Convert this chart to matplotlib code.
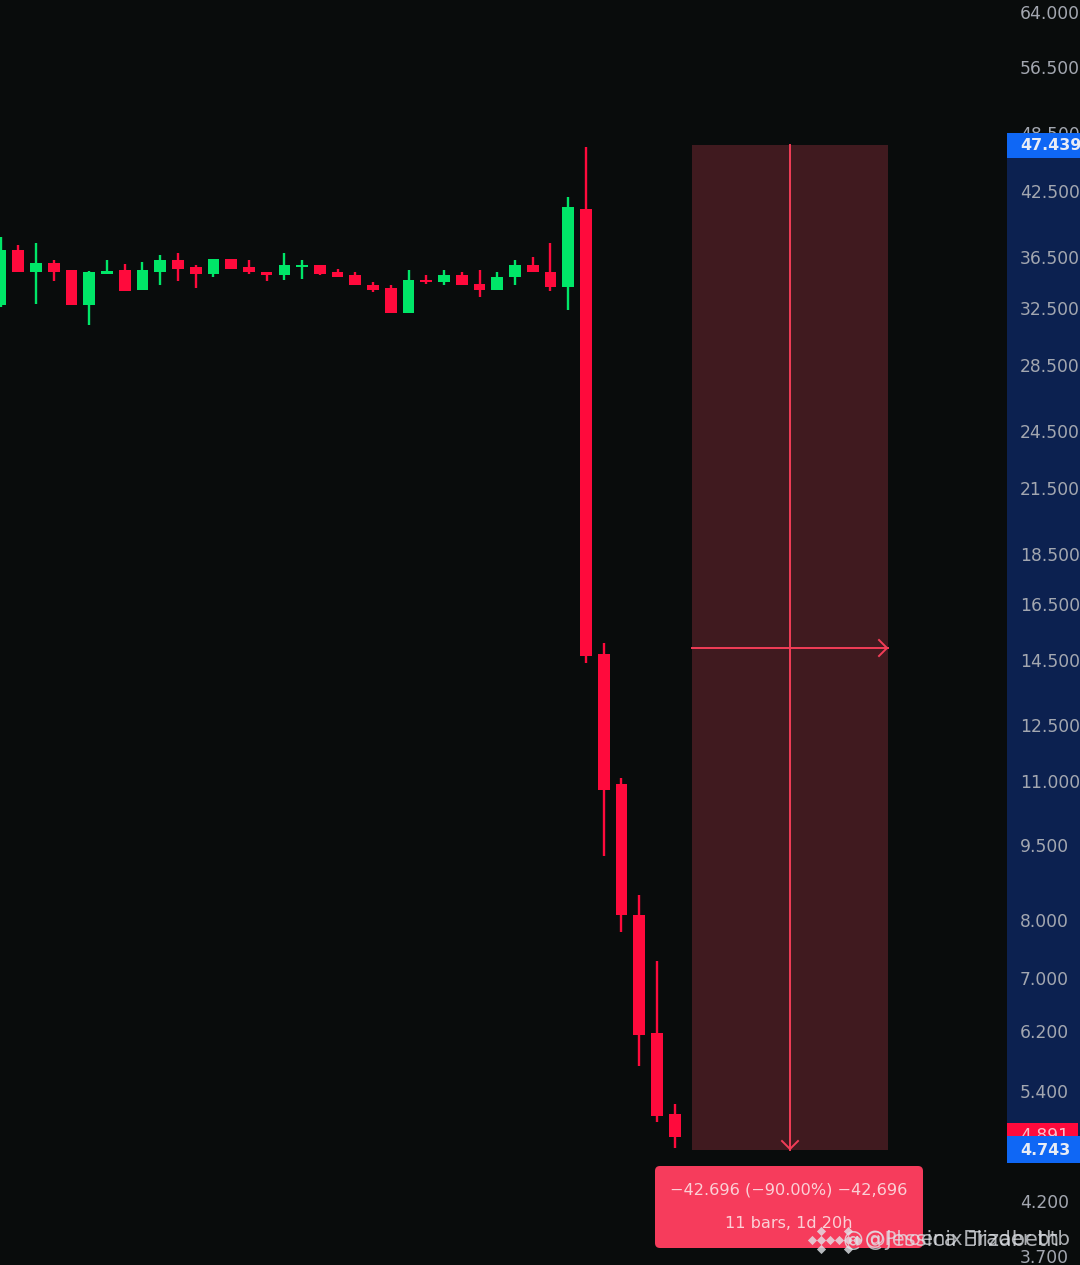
#!/usr/bin/env python3
"""Candlestick chart with measure tool, log price scale."""

import numpy as np
import matplotlib
matplotlib.use("Agg")
import matplotlib.pyplot as plt
from matplotlib.patches import Rectangle, FancyBboxPatch
from matplotlib.transforms import blended_transform_factory

W, H = 1080, 1265

opens = [32.88, 37.30, 35.47, 36.20, 35.63, 32.88, 35.31, 35.63, 34.03, 35.47,
         36.45, 35.87, 35.31, 36.53, 35.87, 35.47, 35.23, 35.87, 36.04, 35.47,
         35.23, 34.42, 34.19, 32.29, 34.82, 34.66, 35.23, 34.50, 34.03, 35.06,
         36.04, 35.47, 34.26, 40.97, 14.78, 10.97, 8.13, 6.20, 5.15]
closes = [37.30, 35.47, 36.20, 35.47, 32.88, 35.47, 35.55, 33.95, 35.63, 36.45,
          35.71, 35.31, 36.53, 35.71, 35.47, 35.23, 36.04, 36.00, 35.31, 35.06,
          34.42, 34.03, 32.29, 34.82, 34.66, 35.23, 34.42, 34.03, 35.06, 36.04,
          35.47, 34.26, 41.16, 14.71, 10.82, 8.13, 6.17, 5.13, 4.891]
highs = [38.42, 37.73, 37.90, 36.45, 35.63, 35.55, 36.45, 36.12, 36.28, 36.88,
         37.05, 36.04, 36.53, 35.71, 36.45, 35.47, 37.05, 36.45, 36.04, 35.71,
         35.47, 34.66, 34.42, 35.63, 35.23, 35.63, 35.47, 35.63, 35.47, 36.45,
         36.71, 37.90, 42.11, 47.22, 15.16, 11.12, 8.51, 7.31, 5.27]
lows = [32.73, 35.47, 32.96, 34.74, 32.88, 31.41, 35.31, 33.95, 34.03, 34.42,
        34.74, 34.19, 35.06, 35.71, 35.31, 34.74, 34.82, 34.90, 35.23, 35.06,
        34.42, 33.87, 32.29, 32.29, 34.50, 34.42, 34.42, 33.49, 34.03, 34.42,
        35.47, 33.95, 32.51, 14.48, 9.31, 7.82, 5.75, 5.06, 4.765]

tick_prices = [64.0, 56.5, 48.5, 42.5, 36.5, 32.5, 28.5, 24.5, 21.5, 18.5, 16.5,
               14.5, 12.5, 11.0, 9.5, 8.0, 7.0, 6.2, 5.4, 4.2, 3.7]
tick_labels = ["64.000", "56.500", "48.500", "42.500", "36.500", "32.500", "28.500",
               "24.500", "21.500", "18.500", "16.500", "14.500", "12.500", "11.000",
               "9.500", "8.000", "7.000", "6.200", "5.400", "4.200", "3.700"]

range_top = 47.439
range_bottom = 4.743
last_close = 4.891
bar_start = 39
bar_end = 50

BG = "#090c0c"
GREEN = "#00e668"
RED = "#ff0a3c"
LINE = "#f23d57"
FONT = "DejaVu Sans"

fig = plt.figure(figsize=(W / 100, H / 100), dpi=100, facecolor=BG)
ax = fig.add_axes([0, 0, 1, 1], facecolor=BG)
ax.set_yscale("log")
ax.set_xlim(-0.03, W / 17.74 - 0.03)
# 1005 px per decade, 47.439 sits at y=145
ax.set_ylim(range_top * 10 ** (-(H - 145) / 1005), range_top * 10 ** (145 / 1005))
ax.axis("off")

# candles
idx = np.arange(len(opens))
o = np.array(opens)
c = np.array(closes)
colors = [GREEN if b > a else RED for a, b in zip(o, c)]
ax.vlines(idx, lows, highs, colors=colors, lw=1.7, zorder=3)
ax.bar(idx, np.abs(c - o), bottom=np.minimum(o, c), width=0.66, color=colors, lw=0, zorder=4)

# measure tool
ax.fill_between([bar_start, bar_end], range_bottom, range_top, color="#401a1f", lw=0, zorder=2)
mid_x = (bar_start + bar_end) / 2
mid_y = np.sqrt(range_top * range_bottom)
ax.plot([mid_x, mid_x], [range_bottom, range_top], color=LINE, lw=1.4, zorder=5)
ax.plot([bar_start, bar_end], [mid_y, mid_y], color=LINE, lw=1.4, zorder=5)

# price scale
trans = blended_transform_factory(ax.transAxes, ax.transData)
ax.add_patch(Rectangle((1007 / W, range_bottom), 73 / W, range_top - range_bottom,
                       transform=trans, color="#0c2150", lw=0, zorder=1))
for p, lab in zip(tick_prices, tick_labels):
    ax.text(1020 / W, p, lab, transform=trans, color="#a3a7b0", fontsize=12.3,
            family=FONT, va="center", ha="left", zorder=6)

# overlay in pixel coordinates for the labels and tooltip
top = fig.add_axes([0, 0, 1, 1], facecolor="none")
top.set_xlim(0, W)
top.set_ylim(H, 0)
top.axis("off")

top.plot([879, 887, 879], [640, 648, 656], color=LINE, lw=1.4)
top.plot([782, 790, 798], [1141, 1149, 1141], color=LINE, lw=1.4)

top.add_patch(Rectangle((1007, 133), 73, 25, color="#0f67f5", lw=0))
top.text(1020, 145.5, "47.439", color="#e8ecf5", fontsize=11.4, fontweight="bold",
         family=FONT, va="center", ha="left")
# last close label sits under the blue one, only its top shows
top.add_patch(Rectangle((1007, 1123), 71, 14, color=RED, lw=0, zorder=2))
top.text(1020, 1136, "4.891", color="#f7c0cc", fontsize=12.3, family=FONT, va="center",
         ha="left", zorder=3)
top.add_patch(Rectangle((1007, 1136), 73, 27, color="#0f67f5", lw=0, zorder=4))
top.text(1020, 1150.5, "4.743", color="#e8ecf5", fontsize=11.4, fontweight="bold",
         family=FONT, va="center", ha="left", zorder=5)

top.add_patch(FancyBboxPatch((658, 1169), 262, 76, boxstyle="round,pad=3,rounding_size=5",
                             fc="#f63c5c", ec="none"))
top.text(789, 1190, "\u221242.696 (\u221290.00%) \u221242,696", color="#fbd0d6", fontsize=11.6,
         family=FONT, ha="center", va="center")
top.text(789, 1223, "11 bars, 1d 20h", color="#fbd0d6", fontsize=11.6,
         family=FONT, ha="center", va="center")

# watermark, two copies on top of each other
wm = "#e2e5ea"
for cx in (821, 848):
    top.scatter([cx, cx - 9, cx + 9, cx, cx], [1231, 1240, 1240, 1249, 1240], marker="D", s=22,
                color=wm, alpha=0.8, lw=0, zorder=6)
top.text(843, 1240, "@", color=wm, fontsize=15, family=FONT, alpha=0.8, va="center", zorder=6)
top.text(865, 1240, "@Jessica Elizabeth", color=wm, fontsize=15, family=FONT, alpha=0.75,
         va="center", ha="left", zorder=6)
top.text(865, 1240, "@Phoenix Trader btb", color=wm, fontsize=14.2, family=FONT, alpha=0.75,
         va="center", ha="left", zorder=6)

fig.savefig("out.png", dpi=100, facecolor=BG)
